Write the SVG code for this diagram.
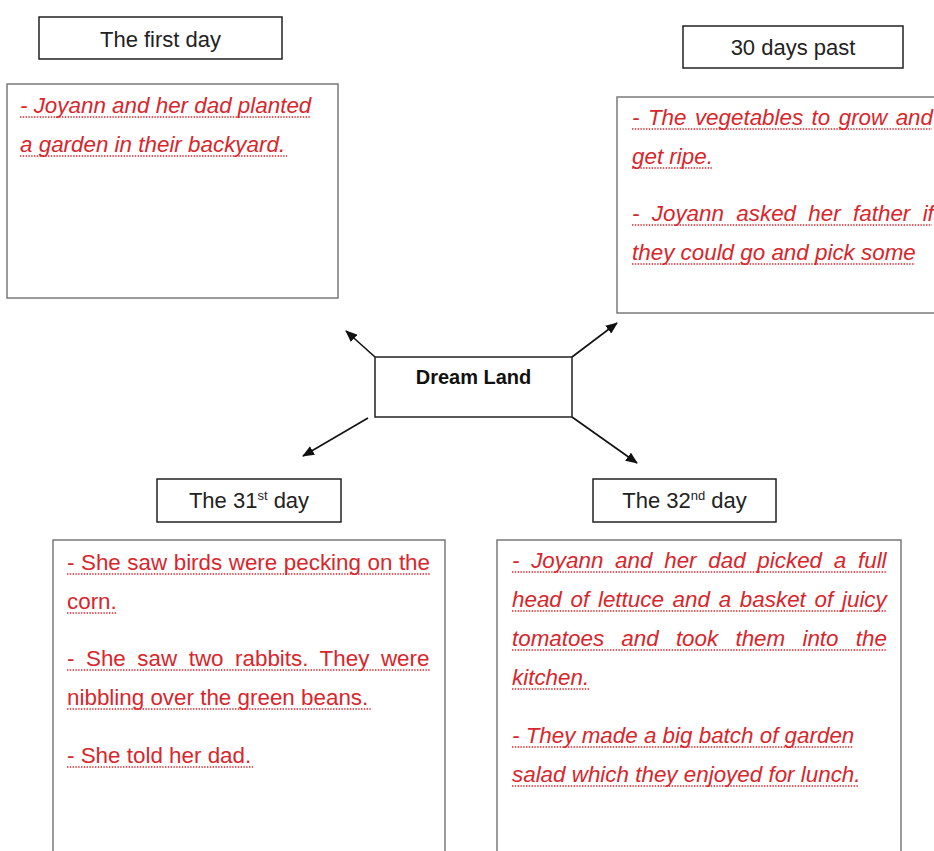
<svg xmlns="http://www.w3.org/2000/svg" width="934" height="851" viewBox="0 0 934 851">
<style>
.hdr{fill:#fff;stroke:#222;stroke-width:1.5}
.box{fill:#fff;stroke:#7a7a7a;stroke-width:1.5}
.ht{font-family:"Liberation Sans",Arial,sans-serif;font-size:22px;fill:#222;text-anchor:middle}
.rt{font-family:"Liberation Sans",Arial,sans-serif;font-size:22.4px;fill:#d8262c}
.it{font-style:italic}
.ul{stroke:#d8262c;stroke-width:1.4;stroke-dasharray:1.4 1.4;fill:none}
.cn{stroke:#111;stroke-width:1.6;fill:none}
</style>
<defs>
<marker id="ah" viewBox="0 0 12 10" refX="11" refY="5" markerWidth="12" markerHeight="10" markerUnits="userSpaceOnUse" orient="auto">
<path d="M0,0 L12,5 L0,10 Z" fill="#111"/>
</marker>
</defs>
<rect width="934" height="851" fill="#fff"/>

<g id="connectors">
<line class="cn" x1="375" y1="357" x2="346" y2="331" marker-end="url(#ah)"/>
<line class="cn" x1="572" y1="357" x2="617" y2="323" marker-end="url(#ah)"/>
<line class="cn" x1="368" y1="418" x2="303" y2="456" marker-end="url(#ah)"/>
<line class="cn" x1="572" y1="417" x2="637" y2="463" marker-end="url(#ah)"/>
</g>

<g id="center">
<rect class="hdr" x="375" y="357" width="197" height="60"/>
<text x="473.5" y="384" font-family="Liberation Sans,Arial,sans-serif" font-size="20" font-weight="bold" fill="#111" text-anchor="middle">Dream Land</text>
</g>

<g id="first-day-title">
<rect class="hdr" x="39" y="17" width="243" height="42"/>
<text class="ht" x="160.5" y="47">The first day</text>
</g>
<g id="first-day-box">
<rect class="box" x="7" y="84" width="331" height="214"/>
<text class="rt it" x="20" y="113">- Joyann and her dad planted</text>
<text class="rt it" x="20" y="152">a garden in their backyard.</text>
<line class="ul" x1="20" y1="117" x2="311" y2="117"/>
<line class="ul" x1="20" y1="156" x2="287" y2="156"/>
</g>

<g id="thirty-days-title">
<rect class="hdr" x="683" y="26" width="220" height="42"/>
<text class="ht" x="793" y="55">30 days past</text>
</g>
<g id="thirty-days-box">
<rect class="box" x="617" y="97" width="340" height="216"/>
<text class="rt it" x="632" y="125" word-spacing="2.2">- The vegetables to grow and</text>
<text class="rt it" x="632" y="164">get ripe.</text>
<text class="rt it" x="632" y="221" word-spacing="6.1">- Joyann asked her father if</text>
<text class="rt it" x="632" y="260">they could go and pick some</text>
<line class="ul" x1="632" y1="129" x2="932" y2="129"/>
<line class="ul" x1="632" y1="168" x2="713" y2="168"/>
<line class="ul" x1="632" y1="225" x2="932" y2="225"/>
<line class="ul" x1="632" y1="264" x2="915" y2="264"/>
</g>

<g id="day31-title">
<rect class="hdr" x="157" y="479" width="184" height="43"/>
<text class="ht" x="249" y="508">The 31<tspan font-size="13" dy="-8">st</tspan><tspan dy="8"> day</tspan></text>
</g>
<g id="day31-box">
<rect class="box" x="53" y="540" width="392" height="330"/>
<text class="rt" x="67" y="570" word-spacing="0.3">- She saw birds were pecking on the</text>
<text class="rt" x="67" y="609">corn.</text>
<text class="rt" x="67" y="666" word-spacing="5.3">- She saw two rabbits. They were</text>
<text class="rt" x="67" y="705">nibbling over the green beans.</text>
<text class="rt" x="67" y="763">- She told her dad.</text>
<line class="ul" x1="67" y1="574" x2="430" y2="574"/>
<line class="ul" x1="67" y1="613" x2="117" y2="613"/>
<line class="ul" x1="67" y1="670" x2="430" y2="670"/>
<line class="ul" x1="67" y1="709" x2="372" y2="709"/>
<line class="ul" x1="67" y1="767" x2="253" y2="767"/>
</g>

<g id="day32-title">
<rect class="hdr" x="593" y="479" width="183" height="43"/>
<text class="ht" x="684.5" y="508">The 32<tspan font-size="13" dy="-8">nd</tspan><tspan dy="8"> day</tspan></text>
</g>
<g id="day32-box">
<rect class="box" x="497" y="540" width="404" height="330"/>
<text class="rt it" x="512" y="568" word-spacing="5.5">- Joyann and her dad picked a full</text>
<text class="rt it" x="512" y="607" word-spacing="2.5">head of lettuce and a basket of juicy</text>
<text class="rt it" x="512" y="646" word-spacing="11">tomatoes and took them into the</text>
<text class="rt it" x="512" y="685">kitchen.</text>
<text class="rt it" x="512" y="743">- They made a big batch of garden</text>
<text class="rt it" x="512" y="782">salad which they enjoyed for lunch.</text>
<line class="ul" x1="512" y1="572" x2="887" y2="572"/>
<line class="ul" x1="512" y1="611" x2="887" y2="611"/>
<line class="ul" x1="512" y1="650" x2="887" y2="650"/>
<line class="ul" x1="512" y1="689" x2="589" y2="689"/>
<line class="ul" x1="512" y1="747" x2="853" y2="747"/>
<line class="ul" x1="512" y1="786" x2="858" y2="786"/>
</g>
</svg>
